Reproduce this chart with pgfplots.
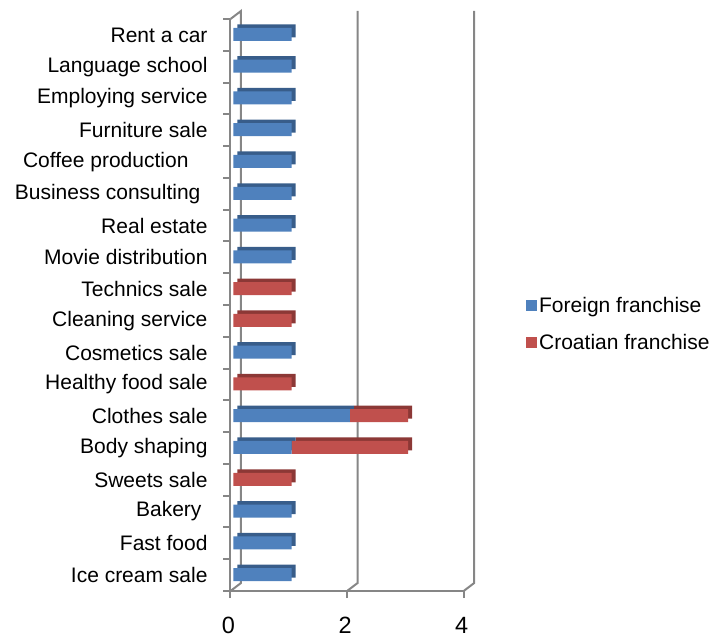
\documentclass[border=0pt]{standalone}
\usepackage{fontspec}
\setmainfont{Liberation Sans}
\usepackage{pgfplots}
\usepackage{pgfplotstable}
\pgfplotsset{compat=1.18}
\definecolor{fblue}{RGB}{79,129,189}
\definecolor{fbluedark}{RGB}{56,93,138}
\definecolor{cred}{RGB}{192,80,77}
\definecolor{creddark}{RGB}{140,56,54}
\definecolor{axgray}{RGB}{134,134,134}

\pgfplotstableread{
y foreign croatian
0 1 0
1 1 0
2 1 0
3 0 1
4 1 2
5 2 1
6 0 1
7 1 0
8 0 1
9 0 1
10 1 0
11 1 0
12 1 0
13 1 0
14 1 0
15 1 0
16 1 0
17 1 0
}\datatable

\pgfplotsset{
  base/.style={scale only axis, width=233.2bp, height=572bp,
    xmin=0, xmax=4, ymin=-0.5, ymax=17.5},
  barsonly/.style={base, axis lines=none, xbar stacked, bar width=13bp,
    ticks=none},
}
\newcommand{\bigfont}{\fontsize{21bp}{25bp}\selectfont}

\begin{document}
\begin{tikzpicture}
\useasboundingbox (-230.5bp,-48bp) rectangle (486.5bp,591bp);
% frame, ticks, labels, back wall
\begin{axis}[base, clip=false,
  axis x line*=bottom, axis y line*=left,
  axis line style={axgray, line width=2bp, -},
  xtick={0,2,4},
  ytick={0,...,17},
  yticklabels={{Ice cream sale},{Fast food},{Bakery\hspace*{6bp}},{Sweets sale},
    {Body shaping},{Clothes sale},{Healthy food sale},{Cosmetics sale},
    {Cleaning service},{Technics sale},{Movie distribution},{Real estate},
    {Business consulting\hspace*{7bp}},{Coffee production\hspace*{19bp}},
    {Furniture sale},{Employing service},{Language school},{Rent a car}},
  minor ytick={-0.5,0.5,...,17.5},
  tick align=outside,
  major tick length=7bp, minor tick length=7bp,
  tick style={axgray, line width=2bp},
  major y tick style={draw=none},
  ticklabel style={font=\bigfont, text=black},
  yticklabel style={xshift=-12.5bp},
  xticklabel style={font=\fontsize{23.5bp}{28bp}\selectfont, inner sep=0pt,
    yshift=-19bp, xshift=-2bp},
  /pgf/number format/assume math mode=true,
]
\draw[axgray, line width=2bp] (axis cs:0,-0.5) -- ++(10.5bp,8bp)
   -- ([xshift=10.5bp,yshift=8bp]axis cs:0,17.5) -- (axis cs:0,17.5);
\draw[axgray, line width=2bp] (axis cs:2,-0.5) -- ++(10.5bp,8bp)
   -- ([xshift=10.5bp,yshift=8bp]axis cs:2,17.5);
\draw[axgray, line width=2bp] (axis cs:4,-0.5) -- ++(10.5bp,8bp)
   -- ([xshift=10.5bp,yshift=8bp]axis cs:4,17.5);
\end{axis}
% shadow (3D faces)
\begin{axis}[barsonly, at={(6.8bp,4bp)}]
\addplot[fill=fbluedark, draw=none] table[x=foreign, y=y] {\datatable};
\addplot[fill=creddark, draw=none] table[x=croatian, y=y] {\datatable};
\end{axis}
% front faces
\begin{axis}[barsonly, at={(2.8bp,0.5bp)},
  legend style={at={(1.255,0.466)}, anchor=west, draw=none, fill=none,
    font=\bigfont, row sep=15bp, inner sep=0pt,
    nodes={inner sep=2.5bp}},
  legend cell align=left,
]
\addplot[fill=fblue, draw=none,
  legend image code/.code={\fill[fblue] (0bp,-5.25bp) rectangle (10.5bp,5.25bp);}]
  table[x=foreign, y=y] {\datatable};
\addplot[fill=cred, draw=none,
  legend image code/.code={\fill[cred] (0bp,-5.25bp) rectangle (10.5bp,5.25bp);}]
  table[x=croatian, y=y] {\datatable};
\legend{Foreign franchise, Croatian franchise}
\end{axis}
\end{tikzpicture}
\end{document}
